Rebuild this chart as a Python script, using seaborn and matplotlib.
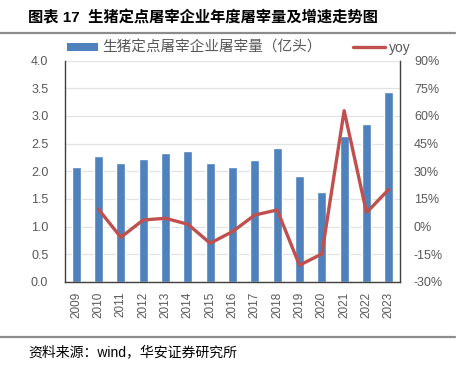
import numpy as np
import pandas as pd
import matplotlib
matplotlib.use('Agg')
import matplotlib.pyplot as plt
from matplotlib.lines import Line2D
from matplotlib.patches import Patch
from matplotlib.ticker import FixedLocator, FuncFormatter
import seaborn as sns

# Datos
years = ['2009', '2010', '2011', '2012', '2013', '2014', '2015', '2016',
         '2017', '2018', '2019', '2020', '2021', '2022', '2023']
sacrificio = [2.08, 2.27, 2.14, 2.22, 2.33, 2.36, 2.14, 2.08,
              2.21, 2.42, 1.91, 1.62, 2.64, 2.85, 3.43]   # 亿头
yoy_years = years[1:]
yoy = [9.4, -5.8, 3.6, 4.5, 1.3, -9.0, -2.7,
       6.3, 9.0, -20.9, -14.8, 62.8, 7.6, 20.2]          # %

titulo = '图表 17  生猪定点屠宰企业年度屠宰量及增速走势图'
fuente = '资料来源：wind，华安证券研究所'
label_barras = '生猪定点屠宰企业屠宰量（亿头）'
label_linea = 'yoy'

AZUL = '#4F81BD'
ROJO = '#C0504D'
GRIS_TXT = '#595959'
GRIS_EJE = '#404040'

sns.set_style('white')
plt.rcParams['font.family'] = ['Liberation Sans', 'Noto Sans CJK SC', 'DejaVu Sans']

df_bar = pd.DataFrame({'year': years, 'valor': sacrificio})
df_yoy = pd.DataFrame({'year': yoy_years, 'yoy': yoy})
df_yoy['pos'] = [years.index(y) for y in df_yoy['year']]

fig = plt.figure(figsize=(4.6, 3.66), dpi=100)
ax = fig.add_axes([65 / 460, 1 - 282 / 366, 335 / 460, 221.5 / 366])
ax2 = ax.twinx()

# barras
sns.barplot(data=df_bar, x='year', y='valor', order=years, color=AZUL,
            saturation=1, width=0.4, ax=ax, zorder=2)
ax.set_xlim(-0.5, len(years) - 0.5)
ax.set_ylim(0, 4)
ax.set_yticks(np.arange(0, 4.01, 0.5))
ax.yaxis.set_major_formatter(FuncFormatter(lambda v, p: f'{v:.1f}'))
ax.grid(axis='y', color='#E3E3E3', linewidth=0.9, zorder=0)
ax.set_axisbelow(True)
ax.set_xlabel('')
ax.set_ylabel('')

# linea yoy
sns.lineplot(data=df_yoy, x='pos', y='yoy', color=ROJO, linewidth=2.4,
             ax=ax2, legend=False)
ax2.set_ylim(-30, 90)
ax2.set_yticks(np.arange(-30, 91, 15))
ax2.yaxis.set_major_formatter(FuncFormatter(lambda v, p: f'{v:.0f}%'))
ax2.set_xlabel('')
ax2.set_ylabel('')
ax2.grid(False)
ax2.set_xlim(-0.5, len(years) - 0.5)

# ejes y ticks
for a in (ax, ax2):
    for s in a.spines.values():
        s.set_visible(False)
ax.spines['left'].set_visible(True)
ax.spines['bottom'].set_visible(True)
ax2.spines['right'].set_visible(True)
for s in (ax.spines['left'], ax.spines['bottom'], ax2.spines['right']):
    s.set_color(GRIS_EJE)
    s.set_linewidth(1.0)

ax.set_xticks(range(len(years)))
ax.set_xticklabels(years, rotation=90)
ax.xaxis.set_minor_locator(FixedLocator(np.arange(-0.5, len(years), 1)))
ax.tick_params(axis='x', which='major', length=0, pad=7, labelsize=8.5, labelcolor=GRIS_TXT)
ax.tick_params(axis='x', which='minor', length=5, width=1, color=GRIS_EJE, direction='out')
ax.tick_params(axis='y', length=0, pad=12, labelsize=9, labelcolor=GRIS_TXT)
ax2.tick_params(axis='y', length=0, pad=10, labelsize=9, labelcolor=GRIS_TXT)

# leyendas
h1 = [Patch(facecolor=AZUL, edgecolor='none')]
h2 = [Line2D([0], [0], color=ROJO, linewidth=2.4)]
leg1 = fig.legend(h1, [label_barras], loc='center left',
                  bbox_to_anchor=(67 / 460, 1 - 48 / 366), frameon=False,
                  borderpad=0, borderaxespad=0, handlelength=2.1, handleheight=0.55,
                  handletextpad=0.3, fontsize=10.5, labelcolor=GRIS_TXT)
leg2 = fig.legend(h2, [label_linea], loc='center left',
                  bbox_to_anchor=(353 / 460, 1 - 48 / 366), frameon=False,
                  borderpad=0, borderaxespad=0, handlelength=2.3,
                  handletextpad=0.3, fontsize=10, labelcolor=GRIS_TXT)

# titulo, fuente y lineas separadoras
fig.text(28 / 460, 1 - 18 / 366, titulo, fontsize=11, fontweight='bold',
         va='center', ha='left', color='black')
fig.text(28 / 460, 1 - 352 / 366, fuente, fontsize=10,
         va='center', ha='left', color='black')
for yy in (33, 337):
    fig.add_artist(Line2D([0, 455 / 460], [1 - yy / 366, 1 - yy / 366],
                          transform=fig.transFigure, color='#8C8C8C', linewidth=1.6))

fig.savefig('out.png', dpi=100)
